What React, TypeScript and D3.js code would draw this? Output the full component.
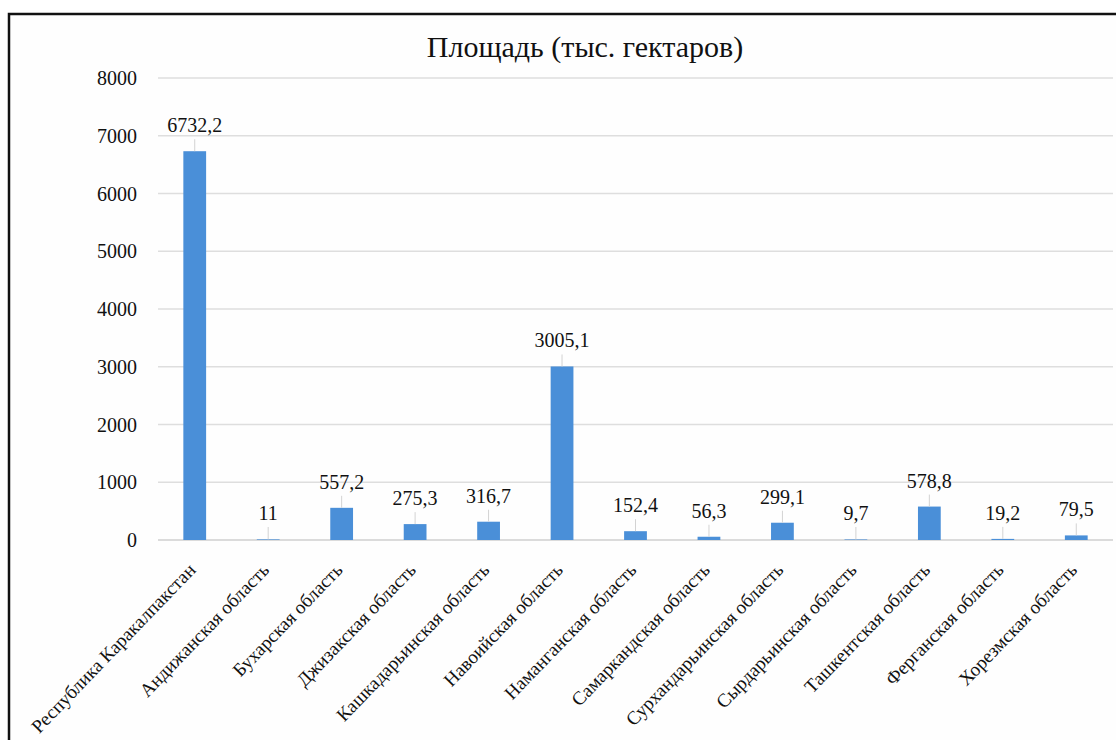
import React from "react";
import * as d3 from "d3";

const categories = [
  "Республика Каракалпакстан",
  "Андижанская область",
  "Бухарская область",
  "Джизакская область",
  "Кашкадарьинская область",
  "Навоийская область",
  "Наманганская область",
  "Самаркандская область",
  "Сурхандарьинская область",
  "Сырдарьинская область",
  "Ташкентская область",
  "Ферганская область",
  "Хорезмская область",
];
const values = [6732.2, 11, 557.2, 275.3, 316.7, 3005.1, 152.4, 56.3, 299.1, 9.7, 578.8, 19.2, 79.5];
const valueLabels = ["6732,2", "11", "557,2", "275,3", "316,7", "3005,1", "152,4", "56,3", "299,1", "9,7", "578,8", "19,2", "79,5"];
const yTicks = [0, 1000, 2000, 3000, 4000, 5000, 6000, 7000, 8000];
const title = "Площадь (тыс. гектаров)";

const W = 1116;
const H = 740;
const left = 158;
const right = 1113;
const top = 78;
const bottom = 540;
const font = "'Liberation Serif', 'Times New Roman', 'DejaVu Serif', serif";

export default function App() {
  const x = d3.scaleBand<string>().domain(categories).range([left, right]).paddingInner(0.69).paddingOuter(0.345);
  const y = d3.scaleLinear().domain([0, 8000]).range([bottom, top]);
  const bw = x.bandwidth();
  return (
    <svg width={W} height={H} style={{ position: "absolute", left: 0, top: 0, background: "#fff" }}>
      <rect x={9} y={14} width={W + 10} height={H + 10} fill="#fefefe" stroke="#111" strokeWidth={2.5} />
      <text x={585} y={57} textAnchor="middle" fontFamily={font} fontSize={30} fill="#111">
        {title}
      </text>
      {yTicks.map((t) => (
        <g key={t}>
          <line x1={left} x2={right} y1={y(t)} y2={y(t)} stroke={t === 0 ? "#cfcfcf" : "#dedede"} strokeWidth={1.5} />
          <text x={137} y={y(t) + 7} textAnchor="end" fontFamily={font} fontSize={20} fill="#111">
            {t}
          </text>
        </g>
      ))}
      {categories.map((c, i) => {
        const cx = (x(c) as number) + bw / 2;
        const yt = y(values[i]);
        const labelBase = Math.min(yt - 19, bottom - 20);
        return (
          <g key={c}>
            <rect x={x(c) as number} y={yt} width={bw} height={bottom - yt} fill="#4a8fd8" />
            {yt - labelBase > 16 && (
              <line x1={cx} x2={cx} y1={labelBase + 7} y2={yt} stroke="#d3d3d3" strokeWidth={1} />
            )}
            <text x={cx} y={labelBase} textAnchor="middle" fontFamily={font} fontSize={20} fill="#111">
              {valueLabels[i]}
            </text>
            <text
              transform={`translate(${cx + 2},${bottom + 31}) rotate(-46)`}
              textAnchor="end"
              fontFamily={font}
              fontSize={19}
              fill="#111"
            >
              {c}
            </text>
          </g>
        );
      })}
    </svg>
  );
}
